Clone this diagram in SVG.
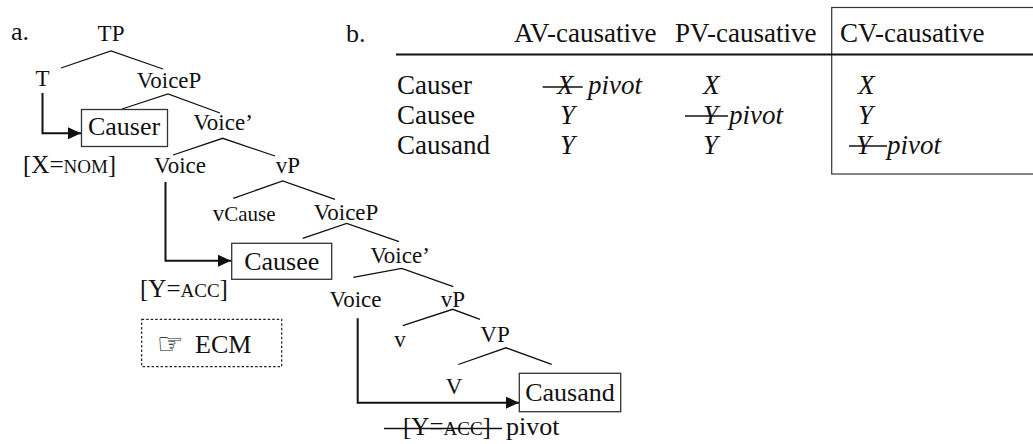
<svg xmlns="http://www.w3.org/2000/svg" width="1033" height="444" viewBox="0 0 1033 444" font-family="'Liberation Serif', 'DejaVu Serif', serif">
<style>
text{font-family:'Liberation Serif','DejaVu Serif',serif;fill:#111}
.lbl{font-size:23px;text-anchor:middle}
.big{font-size:26px}
.tb{font-size:27px}
.mid{text-anchor:middle}
.it{font-style:italic}
.sc{font-size:19px}
.br{fill:none;stroke:#111;stroke-width:1.3}
.arr{fill:none;stroke:#111;stroke-width:2}
.box{fill:#fff;stroke:#333;stroke-width:1.3}
.strike{stroke:#111;stroke-width:1.3}
.hand{font-family:'DejaVu Sans',sans-serif;font-size:30px}
</style>
<defs>
<marker id="ah" markerUnits="userSpaceOnUse" markerWidth="14" markerHeight="12" refX="13" refY="6" orient="auto">
<path d="M0,0 L13,6 L0,12 z" fill="#111"/>
</marker>
</defs>
<rect width="1033" height="444" fill="#fff"/>

<text class="big" x="11" y="40">a.</text>
<text class="big" x="346" y="41.7">b.</text>

<g id="connectors">
<polyline class="br" points="61,68 111,51 163,69"/>
<polyline class="br" points="122,109 168,94 220,113"/>
<polyline class="br" points="173,155 222.7,138.3 275,156"/>
<polyline class="br" points="233.3,198.3 282.7,181 335,199.3"/>
<polyline class="br" points="302.7,238.3 346.7,223.5 399,241.7"/>
<polyline class="br" points="353.3,277.3 401.7,268.3 453.3,286.7"/>
<polyline class="br" points="402.7,325.7 452.7,309.3 480,319.3"/>
<polyline class="br" points="458.3,364.5 506,347.8 551.7,364.3"/>
<path class="arr" d="M42.5,93 V133.3 H81" marker-end="url(#ah)"/>
<path class="arr" d="M165.5,182 V260.7 H231" marker-end="url(#ah)"/>
<path class="arr" d="M357.7,318.3 V402.7 H519" marker-end="url(#ah)"/>
</g>

<g id="TP"><text class="lbl" x="111" y="41">TP</text></g>
<g id="T"><text class="lbl" x="42.5" y="86">T</text></g>
<g id="VoiceP1"><text class="lbl" x="169" y="88">VoiceP</text></g>
<g id="Causer"><rect class="box" x="81.5" y="109.5" width="86" height="37"/><text class="big mid" x="124" y="135">Causer</text></g>
<g id="Voice1bar"><text class="lbl" x="223" y="130">Voice’</text></g>
<g id="XNOM"><text x="23" y="172.7" style="font-size:25px">[X=<tspan class="sc">NOM</tspan>]</text></g>
<g id="Voice1"><text class="lbl" x="180" y="172.7">Voice</text></g>
<g id="vP1"><text class="lbl" x="288" y="173">vP</text></g>
<g id="vCause"><text x="212.7" y="221" style="font-size:23px">v<tspan style="font-size:21px">Cause</tspan></text></g>
<g id="VoiceP2"><text class="lbl" x="346" y="220">VoiceP</text></g>
<g id="Causee"><rect class="box" x="231.7" y="243.3" width="100" height="36"/><text class="big mid" x="281.7" y="270">Causee</text></g>
<g id="Voice2bar"><text class="lbl" x="400" y="263">Voice’</text></g>
<g id="YACC1"><text x="140" y="296.7" style="font-size:25px">[Y=<tspan class="sc">ACC</tspan>]</text></g>
<g id="Voice2"><text class="lbl" x="355.5" y="306.7">Voice</text></g>
<g id="vP2"><text class="lbl" x="453" y="307">vP</text></g>
<g id="ECM"><rect x="141.7" y="319.3" width="140" height="47.4" fill="none" stroke="#222" stroke-width="1.2" stroke-dasharray="2.5,2"/><text class="hand" x="157" y="354">☞</text><text class="big" x="195" y="353.3">ECM</text></g>
<g id="v"><text class="lbl" x="400" y="346.7">v</text></g>
<g id="VP"><text class="lbl" x="495" y="342.3">VP</text></g>
<g id="V"><text class="lbl" x="454" y="394">V</text></g>
<g id="Causand"><rect class="box" x="519.3" y="373.3" width="101.4" height="38.4"/><text class="big mid" x="570" y="400.7">Causand</text></g>
<g id="YACC2"><text x="403" y="435" style="font-size:25px">[Y=<tspan class="sc">ACC</tspan>]</text><line class="strike" x1="384" y1="428.5" x2="502" y2="428.5"/><text class="big" x="506" y="435">pivot</text></g>

<g id="table">
<rect x="831.7" y="7.5" width="240" height="166.5" fill="none" stroke="#333" stroke-width="1.2"/>
<line x1="396" y1="54.5" x2="1033" y2="54.5" stroke="#111" stroke-width="2"/>
<text class="tb" x="514" y="41.7">AV-causative</text>
<text class="tb" x="675" y="41.7">PV-causative</text>
<text class="tb" x="840" y="41.7">CV-causative</text>
<text class="tb" x="397" y="94">Causer</text>
<text class="tb" x="397" y="124">Causee</text>
<text class="tb" x="397" y="154">Causand</text>
<text class="tb it" x="557" y="94">X</text>
<line class="strike" x1="542.7" y1="87" x2="582.7" y2="87"/>
<text class="tb it" x="588" y="94">pivot</text>
<text class="tb it" x="560" y="124">Y</text>
<text class="tb it" x="560" y="154">Y</text>
<text class="tb it" x="703" y="94">X</text>
<text class="tb it" x="703" y="124">Y</text>
<line class="strike" x1="685" y1="116" x2="728" y2="116"/>
<text class="tb it" x="729" y="124">pivot</text>
<text class="tb it" x="703" y="154">Y</text>
<text class="tb it" x="858" y="94">X</text>
<text class="tb it" x="858" y="124">Y</text>
<text class="tb it" x="856" y="154">Y</text>
<line class="strike" x1="849" y1="146" x2="887" y2="146"/>
<text class="tb it" x="887" y="154">pivot</text>
</g>
</svg>
